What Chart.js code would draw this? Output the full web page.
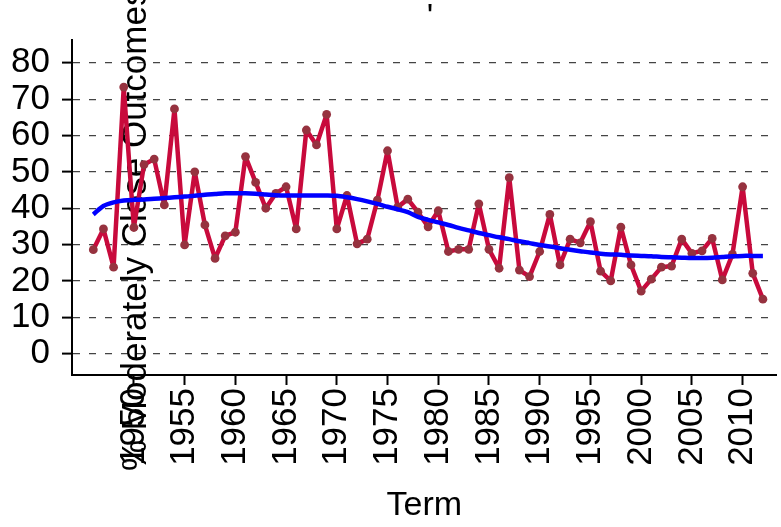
<!DOCTYPE html>
<html lang="en">
<head>
    <meta charset="UTF-8">
    <title>% Moderately Close Outcomes by Term</title>
    <script src="https://cdnjs.cloudflare.com/ajax/libs/Chart.js/4.4.0/chart.umd.min.js"></script>
    <style>
        html, body {
            margin: 0;
            padding: 0;
            background: #ffffff;
        }
        #chartBox {
            width: 781px;
            height: 527px;
        }
    </style>
</head>
<body>
    <div id="chartBox">
        <canvas id="closeChart" width="781" height="527"></canvas>
    </div>

    <script>
        // Terms (x values)
        const terms = [
            1946, 1947, 1948, 1949, 1950, 1951, 1952, 1953, 1954, 1955,
            1956, 1957, 1958, 1959, 1960, 1961, 1962, 1963, 1964, 1965,
            1966, 1967, 1968, 1969, 1970, 1971, 1972, 1973, 1974, 1975,
            1976, 1977, 1978, 1979, 1980, 1981, 1982, 1983, 1984, 1985,
            1986, 1987, 1988, 1989, 1990, 1991, 1992, 1993, 1994, 1995,
            1996, 1997, 1998, 1999, 2000, 2001, 2002, 2003, 2004, 2005,
            2006, 2007, 2008, 2009, 2010, 2011, 2012
        ];

        // % moderately close outcomes, one per term
        const closeShare = [
            28.6, 34.3, 23.8, 73.3, 34.7, 52.0, 53.5, 40.9, 67.3, 29.9,
            50.0, 35.4, 26.2, 32.4, 33.4, 54.2, 47.1, 40.0, 44.1, 45.9,
            34.3, 61.5, 57.4, 65.8, 34.3, 43.5, 30.2, 31.5, 42.2, 55.8,
            40.3, 42.5, 38.9, 34.9, 39.3, 28.1, 28.7, 28.7, 41.2, 28.7,
            23.5, 48.4, 23.0, 21.2, 28.1, 38.3, 24.4, 31.5, 30.5, 36.3,
            22.7, 20.0, 34.8, 24.4, 17.2, 20.5, 23.8, 24.1, 31.5, 27.6,
            28.3, 31.7, 20.3, 27.3, 45.9, 22.1, 15.0
        ];

        // smoothed trend line
        const smoothShare = [
            38.3, 40.6, 41.6, 42.1, 42.3, 42.4, 42.6, 42.8, 43.0, 43.2,
            43.4, 43.7, 43.9, 44.1, 44.1, 44.1, 44.0, 43.8, 43.6, 43.5,
            43.5, 43.5, 43.5, 43.5, 43.4, 43.0, 42.5, 41.9, 41.2, 40.4,
            39.7, 38.9, 37.6, 36.8, 36.1, 35.4, 34.6, 33.9, 33.2, 32.6,
            32.0, 31.5, 30.9, 30.4, 29.9, 29.5, 29.0, 28.6, 28.2, 27.8,
            27.5, 27.3, 27.2, 27.0, 26.9, 26.8, 26.6, 26.5, 26.4, 26.3,
            26.3, 26.4, 26.6, 26.8, 26.9, 26.9, 26.9
        ];

        const xTicks = [1950, 1955, 1960, 1965, 1970, 1975, 1980, 1985, 1990, 1995, 2000, 2005, 2010];
        const yTicks = [0, 10, 20, 30, 40, 50, 60, 70, 80];

        const yTitle = '% Moderately Close Outcomes';
        const xTitle = 'Term';

        const FONT = '"Liberation Sans", Arial, Helvetica, sans-serif';

        // y axis title sits inside the plot region in the original, so draw it by hand
        const overlayText = {
            id: 'overlayText',
            beforeDatasetsDraw(chart) {
                const ctx = chart.ctx;
                ctx.save();
                ctx.fillStyle = '#000000';
                ctx.font = '35px ' + FONT;
                ctx.translate(136, 471);
                ctx.rotate(-Math.PI / 2);
                ctx.textAlign = 'left';
                ctx.textBaseline = 'middle';
                ctx.fillText(yTitle, 0, 0);
                ctx.restore();

                // remnant of the title at the very top
                ctx.save();
                ctx.fillStyle = '#000000';
                ctx.font = '34px ' + FONT;
                ctx.textAlign = 'center';
                ctx.textBaseline = 'top';
                ctx.fillText("'", 430, 1);
                ctx.restore();
            }
        };

        const ctx = document.getElementById('closeChart');

        new Chart(ctx, {
            type: 'line',
            data: {
                datasets: [
                    {
                        label: 'Smoothed',
                        data: terms.map((t, i) => ({ x: t, y: smoothShare[i] })),
                        borderColor: '#0000ff',
                        borderWidth: 4.5,
                        borderJoinStyle: 'round',
                        pointRadius: 0,
                        tension: 0.3,
                        fill: false,
                        order: 0
                    },
                    {
                        label: '% Moderately Close Outcomes',
                        data: terms.map((t, i) => ({ x: t, y: closeShare[i] })),
                        borderColor: '#c80a3c',
                        borderWidth: 4.5,
                        borderJoinStyle: 'round',
                        borderCapStyle: 'round',
                        pointRadius: 4.4,
                        pointBackgroundColor: '#96323f',
                        pointBorderWidth: 0,
                        tension: 0,
                        fill: false,
                        order: 1
                    }
                ]
            },
            options: {
                responsive: false,
                animation: false,
                layout: {
                    padding: { top: 40, right: 0, bottom: 0, left: 0 }
                },
                plugins: {
                    legend: { display: false },
                    tooltip: { enabled: false },
                    title: { display: false }
                },
                scales: {
                    x: {
                        type: 'linear',
                        min: 1943.9,
                        max: 2013.35,
                        afterFit: function(scale) {
                            scale.height = 152;
                            scale.paddingLeft = 0;
                            scale.paddingRight = 0;
                        },
                        afterBuildTicks: function(scale) {
                            scale.ticks = xTicks.map(v => ({ value: v }));
                        },
                        ticks: {
                            color: '#000000',
                            font: { family: FONT, size: 35 },
                            minRotation: 90,
                            maxRotation: 90,
                            padding: 3,
                            autoSkip: false,
                            callback: v => String(v)
                        },
                        grid: {
                            drawOnChartArea: false,
                            drawTicks: true,
                            tickLength: 10,
                            tickColor: '#000000',
                            tickWidth: 2
                        },
                        border: { display: true, color: '#000000', width: 2 },
                        title: {
                            display: true,
                            text: xTitle,
                            color: '#000000',
                            font: { family: FONT, size: 34 },
                            padding: { top: 0, bottom: 1 }
                        }
                    },
                    y: {
                        min: -5.85,
                        max: 86.25,
                        afterFit: function(scale) {
                            scale.width = 72;
                            scale.paddingTop = 0;
                            scale.paddingBottom = 0;
                        },
                        afterBuildTicks: function(scale) {
                            scale.ticks = yTicks.map(v => ({ value: v }));
                        },
                        ticks: {
                            color: '#000000',
                            font: { family: FONT, size: 35 },
                            padding: 12,
                            autoSkip: false,
                            callback: v => String(v)
                        },
                        grid: {
                            color: '#444444',
                            lineWidth: 1.2,
                            tickLength: 10,
                            tickColor: '#000000',
                            tickWidth: 2
                        },
                        border: { display: true, color: '#000000', width: 2, dash: [7, 9] }
                    }
                }
            },
            plugins: [overlayText]
        });
    </script>
</body>
</html>
